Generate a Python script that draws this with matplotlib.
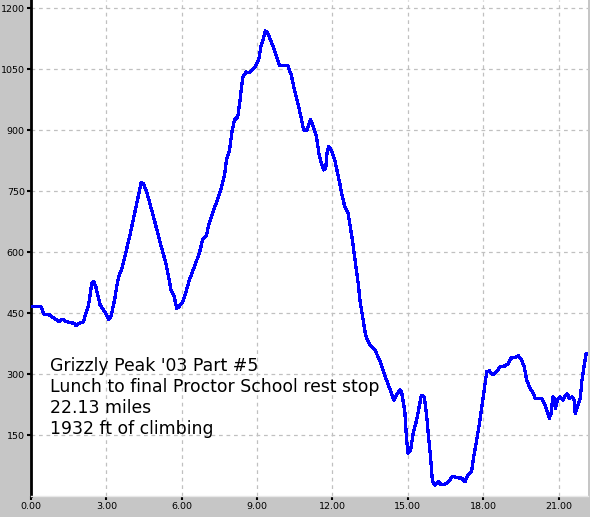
import matplotlib
matplotlib.use("Agg")
import matplotlib.pyplot as plt
import numpy as np

# distance (miles) and elevation (ft)
miles = [0.00, 0.39, 0.52, 0.75, 0.92, 1.12, 1.25, 1.38, 1.58, 1.72, 1.78, 1.91,
         2.09, 2.18, 2.29, 2.35, 2.42, 2.50, 2.58, 2.66, 2.75, 2.84, 2.98, 3.08,
         3.18, 3.27, 3.35, 3.42, 3.51, 3.62, 3.78, 3.91, 4.04, 4.18, 4.28, 4.38,
         4.47, 4.60, 4.73, 4.91, 5.11, 5.24, 5.37, 5.50, 5.57, 5.70, 5.80, 5.90,
         6.04, 6.17, 6.30, 6.50, 6.70, 6.83, 6.99, 7.07, 7.23, 7.39, 7.57, 7.70,
         7.78, 7.90, 8.01, 8.10, 8.23, 8.32, 8.43, 8.56, 8.70, 8.83, 8.96, 9.07,
         9.16, 9.25, 9.33, 9.43, 9.56, 9.69, 9.82, 9.89, 10.22, 10.36, 10.49,
         10.62, 10.76, 10.85, 10.98, 11.12, 11.22, 11.36, 11.46, 11.56, 11.65,
         11.73, 11.78, 11.85, 11.95, 12.09, 12.19, 12.29, 12.38, 12.49, 12.62,
         12.71, 12.79, 12.86, 12.95, 13.04, 13.08, 13.20, 13.32, 13.48, 13.68,
         13.88, 14.15, 14.35, 14.44, 14.55, 14.68, 14.75, 14.88, 14.95, 15.01,
         15.11, 15.21, 15.35, 15.45, 15.54, 15.65, 15.74, 15.81, 15.90, 15.98,
         16.08, 16.21, 16.31, 16.47, 16.61, 16.78, 16.94, 17.14, 17.27, 17.40,
         17.54, 17.60, 17.74, 17.87, 18.00, 18.14, 18.24, 18.38, 18.54, 18.67,
         18.87, 19.00, 19.09, 19.27, 19.40, 19.53, 19.63, 19.73, 19.86, 20.00,
         20.06, 20.33, 20.46, 20.57, 20.63, 20.70, 20.77, 20.83, 20.87, 20.95,
         21.06, 21.17, 21.26, 21.35, 21.43, 21.53, 21.62, 21.66, 21.75, 21.86,
         21.93, 22.02, 22.10]
elev = [467, 467, 447, 445, 437, 429, 435, 430, 426, 425, 419, 424,
        429, 449, 470, 494, 523, 527, 515, 494, 470, 462, 448, 435,
        441, 466, 490, 519, 543, 560, 601, 634, 671, 711, 740, 770,
        769, 748, 720, 679, 630, 601, 572, 531, 507, 490, 462, 466,
        478, 502, 531, 564, 597, 630, 642, 666, 695, 724, 757, 789,
        826, 851, 900, 925, 933, 974, 1031, 1043, 1041, 1049, 1060, 1076,
        1109, 1125, 1144, 1138, 1117, 1097, 1072, 1058, 1058, 1035, 998,
        966, 929, 900, 900, 926, 912, 884, 843, 818, 802,
        806, 843, 859, 851, 826, 797, 769, 740, 711, 695,
        662, 630, 597, 556, 515, 486, 440, 395, 372, 360,
        334, 285, 252, 236, 248, 261, 256, 207, 138, 105,
        113, 154, 187, 220, 248, 244, 203, 154, 97, 35,
        27, 35, 29, 29, 35, 49, 45, 44, 35, 52,
        62, 89, 138, 187, 244, 306, 308, 298, 306, 318,
        320, 326, 339, 341, 345, 334, 318, 285, 265, 252,
        240, 240, 224, 203, 191, 203, 244, 240, 216, 236,
        244, 236, 246, 251, 239, 244, 236, 203, 220, 240,
        285, 322, 351]

x_ticks = [0, 3, 6, 9, 12, 15, 18, 21]
y_ticks = [150, 300, 450, 600, 750, 900, 1050, 1200]
notes = ["Grizzly Peak '03 Part #5",
         "Lunch to final Proctor School rest stop",
         "22.13 miles",
         "1932 ft of climbing"]

fig = plt.figure(figsize=(5.9, 5.17), dpi=100, facecolor="#c6c6c6")
ax = fig.add_axes([31 / 590, 21 / 517, 557 / 590, 496 / 517])
ax.set_facecolor("white")

ax.plot(miles, elev, color="#0000ff", lw=1.6, antialiased=False, zorder=3)

ax.set_xlim(0, 22.17)
ax.set_ylim(0, 1220)
ax.set_xticks(x_ticks)
ax.set_xticklabels(["%.2f" % t for t in x_ticks])
ax.set_yticks(y_ticks)
ax.set_yticklabels([str(t) for t in y_ticks])
ax.grid(True, color="#c0c0c0", linestyle=(0, (3, 3)), linewidth=0.9)
ax.tick_params(direction="out", length=3, width=1.5, color="black",
               labelsize=6.8, pad=1.5)

for s in ["top", "right"]:
    ax.spines[s].set_visible(False)
ax.spines["left"].set_linewidth(2)
ax.spines["left"].set_color("black")
ax.spines["bottom"].set_linewidth(1)
ax.spines["bottom"].set_color("#e8e8e8")

# the four caption lines, baseline spacing ~21 px
for i, line in enumerate(notes):
    ax.text(0.75, 308 - i * 51.6, line, fontsize=12.4, va="baseline",
            ha="left", color="black", zorder=4)

fig.savefig("out.png", dpi=100, facecolor=fig.get_facecolor())
